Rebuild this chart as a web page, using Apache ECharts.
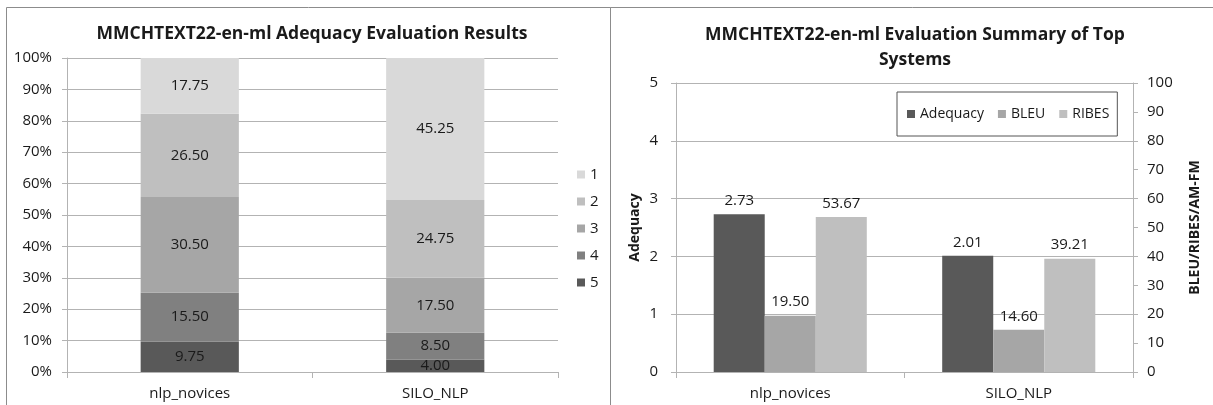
<!DOCTYPE html>
<html>
<head>
<meta charset="utf-8">
<script src="https://cdn.jsdelivr.net/npm/echarts@6/dist/echarts.min.js"></script>
<style>
html,body{margin:0;padding:0;background:#fff;}
#c{width:1213px;height:405px;}
</style>
</head>
<body>
<div id="c"></div>
<script>
// ---- Data ----
const leftTitle = 'MMCHTEXT22-en-ml Adequacy Evaluation Results';
const rightTitle = 'MMCHTEXT22-en-ml Evaluation Summary of Top\nSystems';
const systems = ['nlp_novices', 'SILO_NLP'];
const scoreLevels = ['5', '4', '3', '2', '1'];          // bottom to top
const scoreShares = {
  '5': [9.75, 4.00],
  '4': [15.50, 8.50],
  '3': [30.50, 17.50],
  '2': [26.50, 24.75],
  '1': [17.75, 45.25]
};
const adequacy = [2.73, 2.01];
const bleu = [19.50, 14.60];
const ribes = [53.67, 39.21];
const leftAxisName = 'Adequacy';
const rightAxisName = 'BLEU/RIBES/AM-FM';

// ---- Style ----
const FONT = 'Open Sans';
const TXT = '#1a1a1a';
const GRID = '#b3b3b3';
const levelColors = {'5':'#595959','4':'#808080','3':'#a6a6a6','2':'#bfbfbf','1':'#d9d9d9'};

const chart = echarts.init(document.getElementById('c'), null, {renderer:'canvas'});

const leftSeries = scoreLevels.map(l => ({
  name: l, type: 'bar', stack: 'adq', xAxisIndex: 0, yAxisIndex: 0,
  data: scoreShares[l], barWidth: '40%',
  itemStyle: {color: levelColors[l]},
  label: {show: true, position: 'inside', color: TXT, fontFamily: FONT, fontSize: 15,
          formatter: p => p.value.toFixed(2)}
}));

const rightLabel = {show: true, position: 'top', distance: 6, color: TXT, fontFamily: FONT, fontSize: 15,
  formatter: p => p.value.toFixed(2)};

const rightSeries = [
  {name:'Adequacy', type:'bar', xAxisIndex:1, yAxisIndex:1, data: adequacy,
   itemStyle:{color:'#595959'}, label: rightLabel, barGap: '0%', barCategoryGap: '33%'},
  {name:'BLEU', type:'bar', xAxisIndex:1, yAxisIndex:2, data: bleu,
   itemStyle:{color:'#a6a6a6'}, label: rightLabel, barGap: '0%', barCategoryGap: '33%'},
  {name:'RIBES', type:'bar', xAxisIndex:1, yAxisIndex:2, data: ribes,
   itemStyle:{color:'#bfbfbf'}, label: rightLabel, barGap: '0%', barCategoryGap: '33%'}
];

const axisLabelBase = {color: TXT, fontFamily: FONT, fontSize: 15};

chart.setOption({
  animation: false,
  backgroundColor: '#fff',
  textStyle: {fontFamily: FONT},
  graphic: [
    {type:'rect', shape:{x:6.5, y:7.5, width:604, height:420}, style:{fill:'none', stroke:'#8c8c8c', lineWidth:1}, silent:true, z:-1},
    {type:'rect', shape:{x:610.5, y:7.5, width:620, height:420}, style:{fill:'none', stroke:'#8c8c8c', lineWidth:1}, silent:true, z:-1}
  ],
  title: [
    {text: leftTitle, left: 307, top: 20, textAlign: 'center',
     textStyle:{fontFamily: FONT, fontWeight:'bold', fontSize:17.5, color: TXT}},
    {text: rightTitle, left: 910, top: 18, textAlign: 'center',
     textStyle:{fontFamily: FONT, fontWeight:'bold', fontSize:17.5, color: TXT, lineHeight: 25}}
  ],
  legend: [
    {data: ['1','2','3','4','5'], orient:'vertical', left: 572, top: 162, itemGap: 12,
     itemWidth: 8, itemHeight: 8, icon:'rect',
     textStyle:{color: TXT, fontFamily: FONT, fontSize: 15}},
    {data: ['Adequacy','BLEU','RIBES'], orient:'horizontal', left: 897, top: 92,
     itemWidth: 8, itemHeight: 8, icon:'rect', itemGap: 14,
     padding: [15, 8, 15, 10], borderColor:'#555', borderWidth: 1,
     textStyle:{color: TXT, fontFamily: FONT, fontSize: 14}}
  ],
  grid: [
    {left: 67, right: 1213-558, top: 58, bottom: 405-372, containLabel: false},
    {left: 676, right: 1213-1133, top: 83, bottom: 405-372, containLabel: false}
  ],
  xAxis: [
    {type:'category', gridIndex:0, data: systems,
     axisLine:{lineStyle:{color: GRID}}, axisTick:{show:true, length:6, lineStyle:{color: GRID}},
     axisLabel:{...axisLabelBase, margin: 14}},
    {type:'category', gridIndex:1, data: systems,
     axisLine:{lineStyle:{color: GRID}}, axisTick:{show:true, length:6, lineStyle:{color: GRID}},
     axisLabel:{...axisLabelBase, margin: 14}}
  ],
  yAxis: [
    {type:'value', gridIndex:0, min:0, max:100, interval:10,
     axisLine:{show:true, lineStyle:{color: GRID}}, axisTick:{show:true, length:5, lineStyle:{color: GRID}},
     splitLine:{lineStyle:{color: GRID}},
     axisLabel:{...axisLabelBase, formatter:'{value}%', margin: 15}},
    {type:'value', gridIndex:1, position:'left', min:0, max:5, interval:1,
     name: leftAxisName, nameLocation:'middle', nameGap: 34, nameRotate: 90,
     nameTextStyle:{color: TXT, fontFamily: FONT, fontWeight:'bold', fontSize: 14},
     axisLine:{show:true, lineStyle:{color: GRID}}, axisTick:{show:true, length:5, lineStyle:{color: GRID}},
     splitLine:{lineStyle:{color: GRID}},
     axisLabel:{...axisLabelBase, margin: 18}},
    {type:'value', gridIndex:1, position:'right', min:0, max:100, interval:10,
     name: rightAxisName, nameLocation:'middle', nameGap: 55, nameRotate: 90,
     nameTextStyle:{color: TXT, fontFamily: FONT, fontWeight:'bold', fontSize: 14},
     axisLine:{show:true, lineStyle:{color: GRID}}, axisTick:{show:true, length:5, lineStyle:{color: GRID}},
     splitLine:{show:false},
     axisLabel:{...axisLabelBase, margin: 14}}
  ],
  series: [...leftSeries, ...rightSeries]
});
</script>
</body>
</html>
